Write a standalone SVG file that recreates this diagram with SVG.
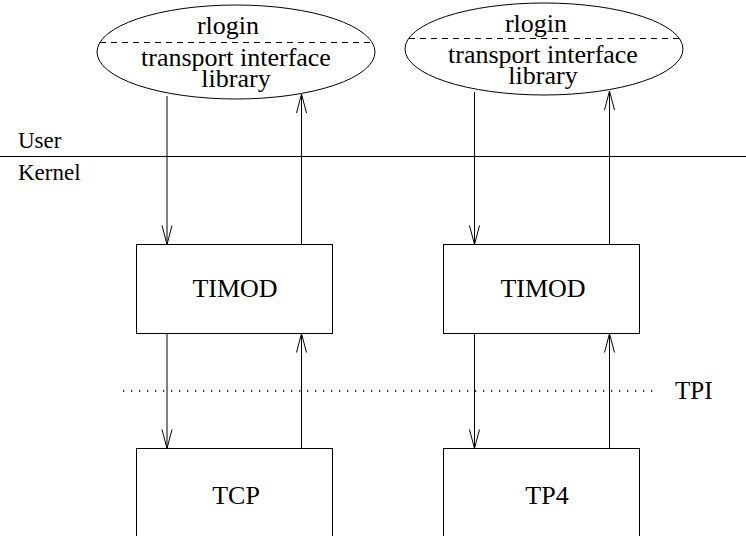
<svg xmlns="http://www.w3.org/2000/svg" width="746" height="536" viewBox="0 0 746 536">
<style>
.s{fill:none;stroke:#000;stroke-width:1}
.n{fill:#fff;stroke:#000;stroke-width:1}
.d{fill:none;stroke:#000;stroke-width:1;stroke-dasharray:6 5}
text{font-family:'Liberation Serif',Tinos,'Times New Roman','DejaVu Serif',serif;fill:#000}
.t{font-size:26px;text-anchor:middle}
.l{font-size:23px}
.c{fill:none;stroke:#000;stroke-width:1;marker-end:url(#ah)}
</style>
<defs>
<marker id="ah" markerUnits="userSpaceOnUse" markerWidth="24" markerHeight="14" viewBox="-21 -7 24 14" refX="0" refY="0" orient="auto">
<path d="M-19,-5 L0,0 L-19,5" fill="none" stroke="#000" stroke-width="1"/>
</marker>
</defs>
<rect width="746" height="536" fill="#fff"/>
<g id="boundary">
<line x1="0" y1="156.5" x2="746" y2="156.5" class="s"/>
<text x="18" y="148" class="l">User</text>
<text x="18" y="180" class="l">Kernel</text>
</g>
<g id="tpi">
<line x1="123" y1="391" x2="657" y2="391" fill="none" stroke="#000" stroke-width="1.3" stroke-dasharray="1.3 6.7"/>
<text x="675" y="399" class="l" style="font-size:25px">TPI</text>
</g>
<g id="lib1">
<ellipse cx="236" cy="52" rx="139" ry="47" class="n"/>
<line x1="100" y1="42.5" x2="372" y2="42.5" class="d"/>
<text x="228" y="34" class="t">rlogin</text>
<text x="236" y="66" class="t">transport interface</text>
<text x="236" y="87" class="t">library</text>
</g>
<g id="lib2">
<ellipse cx="544" cy="49" rx="139" ry="46" class="n"/>
<line x1="409" y1="38.5" x2="679" y2="38.5" class="d"/>
<text x="536" y="32" class="t">rlogin</text>
<text x="543" y="63" class="t">transport interface</text>
<text x="543" y="84" class="t">library</text>
</g>
<g id="timod1">
<rect x="136.5" y="244.5" width="196" height="89" class="n"/>
<text x="235" y="297" class="t">TIMOD</text>
</g>
<g id="timod2">
<rect x="443.5" y="244.5" width="196" height="89" class="n"/>
<text x="543" y="297" class="t">TIMOD</text>
</g>
<g id="tcp">
<rect x="136.5" y="448.5" width="196" height="120" class="n"/>
<text x="236" y="504" class="t">TCP</text>
</g>
<g id="tp4">
<rect x="443.5" y="448.5" width="196" height="120" class="n"/>
<text x="547" y="504" class="t">TP4</text>
</g>
<g id="connectors">
<line x1="167" y1="96" x2="167" y2="244.5" class="c"/>
<line x1="301.5" y1="244.5" x2="301.5" y2="94" class="c"/>
<line x1="167" y1="333.5" x2="167" y2="448.5" class="c"/>
<line x1="301.5" y1="448.5" x2="301.5" y2="333.5" class="c"/>
<line x1="474.5" y1="92" x2="474.5" y2="244.5" class="c"/>
<line x1="609.5" y1="244.5" x2="609.5" y2="91" class="c"/>
<line x1="474.5" y1="333.5" x2="474.5" y2="448.5" class="c"/>
<line x1="609.5" y1="448.5" x2="609.5" y2="333.5" class="c"/>
</g>
</svg>
